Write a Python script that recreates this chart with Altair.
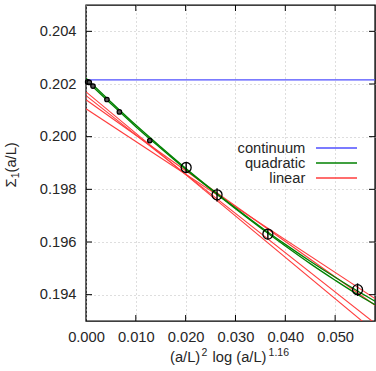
import altair as alt
import pandas as pd

# ---------------- data ----------------
pts_x = [0.0201, 0.0263, 0.0365, 0.0545]
pts_y = [0.19883, 0.19779, 0.19630, 0.19419]
pts_err = [0.00018, 0.00025, 0.00020, 0.00024]

small_x = [0.00034, 0.00066, 0.0014, 0.0042, 0.0067, 0.0128]
small_y = [0.20208, 0.20206, 0.20192, 0.20141, 0.20094, 0.19985]

continuum_y = [0.20216]

quad_x = [0.0, 0.005, 0.010, 0.015, 0.020, 0.025, 0.030, 0.035, 0.040, 0.045, 0.050, 0.055, 0.058]
quad1_y = [0.20222, 0.20132, 0.20044, 0.19961, 0.19880, 0.19803, 0.19729, 0.19658, 0.19591, 0.19527, 0.19466, 0.19408, 0.19375]
quad2_y = [0.20214, 0.20125, 0.20038, 0.19956, 0.19876, 0.19800, 0.19726, 0.19654, 0.19585, 0.19518, 0.19455, 0.19395, 0.19362]

lin_x = [0.0, 0.058]
lin_a = [0.20170, 0.19259]
lin_b = [0.20156, 0.19291]
lin_c = [0.20140, 0.19360]
lin_d = [0.20106, 0.19385]

x_ticks = [0.000, 0.010, 0.020, 0.030, 0.040, 0.050]
y_ticks = [0.194, 0.196, 0.198, 0.200, 0.202, 0.204]

legend_labels = ["continuum", "quadratic", "linear"]
legend_colors = ["#4f4fff", "#008000", "#ff3c3c"]

# axis titles built from pieces: (text, is_raised_or_lowered)
x_title_parts = [("(a/L)", False), ("2", True), ("log (a/L)", False), ("1.16", True)]
y_title_parts = [("\u03a3", False), ("1", True), ("(a/L)", False)]

# ---------------- styling ----------------
FONT = "Liberation Sans"
FS = 14.7
FS_SUP = 10.5
TXT = "#262626"
W, H = 289, 316

xs = alt.Scale(domain=[0.0, 0.058], nice=False, zero=False)
ys = alt.Scale(domain=[0.193, 0.205], nice=False, zero=False)

xaxis = alt.Axis(values=x_ticks, format=".3f", labelFont=FONT, labelFontSize=FS,
                 labelColor=TXT, ticks=False, tickSize=0, domain=False, grid=True,
                 gridDash=[1, 3], gridColor="#bdbdbd", gridWidth=1, labelPadding=8,
                 title=None, labelFlush=False)
yaxis = alt.Axis(values=y_ticks, format=".3f", labelFont=FONT, labelFontSize=FS,
                 labelColor=TXT, ticks=False, tickSize=0, domain=False, grid=True,
                 gridDash=[1, 3], gridColor="#bdbdbd", gridWidth=1, labelPadding=10,
                 title=None, labelFlush=False)


def X(field="x"):
    return alt.X(f"{field}:Q", scale=xs, axis=xaxis)


def Y(field="y"):
    return alt.Y(f"{field}:Q", scale=ys, axis=yaxis)


layers = []

# continuum
cont_df = pd.DataFrame({"y": continuum_y})
layers.append(alt.Chart(cont_df).mark_rule(color=legend_colors[0], strokeWidth=1.3).encode(y=Y()))

# linear fits
for ly in [lin_a, lin_b, lin_c, lin_d]:
    df = pd.DataFrame({"x": lin_x, "y": ly})
    layers.append(alt.Chart(df).mark_line(color=legend_colors[2], strokeWidth=1.1, clip=True)
                  .encode(x=X(), y=Y()))

# quadratic fits
for qy in [quad1_y, quad2_y]:
    df = pd.DataFrame({"x": quad_x, "y": qy})
    layers.append(alt.Chart(df).mark_line(color=legend_colors[1], strokeWidth=1.3,
                                          interpolate="monotone", clip=True)
                  .encode(x=X(), y=Y()))

# small points
sm_df = pd.DataFrame({"x": small_x, "y": small_y})
layers.append(alt.Chart(sm_df).mark_point(shape="circle", filled=True, size=20,
                                          fill="#555", stroke="#000", strokeWidth=1.2,
                                          opacity=1)
              .encode(x=X(), y=Y()))

# points with error bars
pt_df = pd.DataFrame({"x": pts_x, "y": pts_y, "e": pts_err})
pt_df["lo"] = pt_df["y"] - pt_df["e"]
pt_df["hi"] = pt_df["y"] + pt_df["e"]
layers.append(alt.Chart(pt_df).mark_rule(color="#000", strokeWidth=1.4)
              .encode(x=X(), y=Y("lo"), y2="hi:Q"))
layers.append(alt.Chart(pt_df).mark_point(shape="circle", filled=False, size=100,
                                          stroke="#000", strokeWidth=1.3, opacity=1)
              .encode(x=X(), y=Y()))

# inward ticks on all four borders
xt_df = pd.DataFrame({"x": x_ticks[1:]})
yt_df = pd.DataFrame({"y": y_ticks})
TL = 6
layers.append(alt.Chart(xt_df).mark_rule(color="#000", strokeWidth=1)
              .encode(x=X(), y=alt.value(H), y2=alt.value(H - TL)))
layers.append(alt.Chart(xt_df).mark_rule(color="#000", strokeWidth=1)
              .encode(x=X(), y=alt.value(0), y2=alt.value(TL)))
layers.append(alt.Chart(yt_df).mark_rule(color="#000", strokeWidth=1)
              .encode(y=Y(), x=alt.value(0), x2=alt.value(TL)))
layers.append(alt.Chart(yt_df).mark_rule(color="#000", strokeWidth=1)
              .encode(y=Y(), x=alt.value(W), x2=alt.value(W - TL)))

# legend (labels to the left of the line samples)
leg_base = [148.3, 163.3, 178.3]
for lab, col, yb in zip(legend_labels, legend_colors, leg_base):
    layers.append(alt.Chart(cont_df).mark_text(align="right", baseline="alphabetic", font=FONT,
                                               fontSize=FS, color=TXT)
                  .encode(x=alt.value(219.3), y=alt.value(yb), text=alt.value(lab)))
    layers.append(alt.Chart(cont_df).mark_rule(color=col, strokeWidth=1.3)
                  .encode(x=alt.value(230), x2=alt.value(271),
                          y=alt.value(yb - 5.3)))

# x-axis title (superscripts as smaller raised text)
title_x = [84, 115.6, 126.6, 182.6]
for (txt, sup), tx in zip(x_title_parts, title_x):
    layers.append(alt.Chart(cont_df).mark_text(align="left", baseline="alphabetic", font=FONT,
                                               fontSize=FS_SUP if sup else FS, color=TXT)
                  .encode(x=alt.value(tx), y=alt.value(350.5 if sup else 357),
                          text=alt.value(txt)))

# y-axis title, rotated (subscript as smaller lowered text)
title_y = [182.5, 173.3, 167.5]
for (txt, sub), ty in zip(y_title_parts, title_y):
    layers.append(alt.Chart(cont_df).mark_text(align="left", baseline="alphabetic", font=FONT,
                                               fontSize=FS_SUP if sub else FS, color=TXT,
                                               angle=270)
                  .encode(x=alt.value(-67.5 if sub else -70.5), y=alt.value(ty),
                          text=alt.value(txt)))

chart = alt.layer(*layers).properties(
    width=W, height=H,
    autosize=alt.AutoSizeParams(type="none"),
    padding={"left": 86, "top": 5, "right": 1, "bottom": 50},
    background="white",
).configure_view(stroke="#000", strokeWidth=1.4)

chart.save("out.html", embed_options={"renderer": "svg", "actions": False})
